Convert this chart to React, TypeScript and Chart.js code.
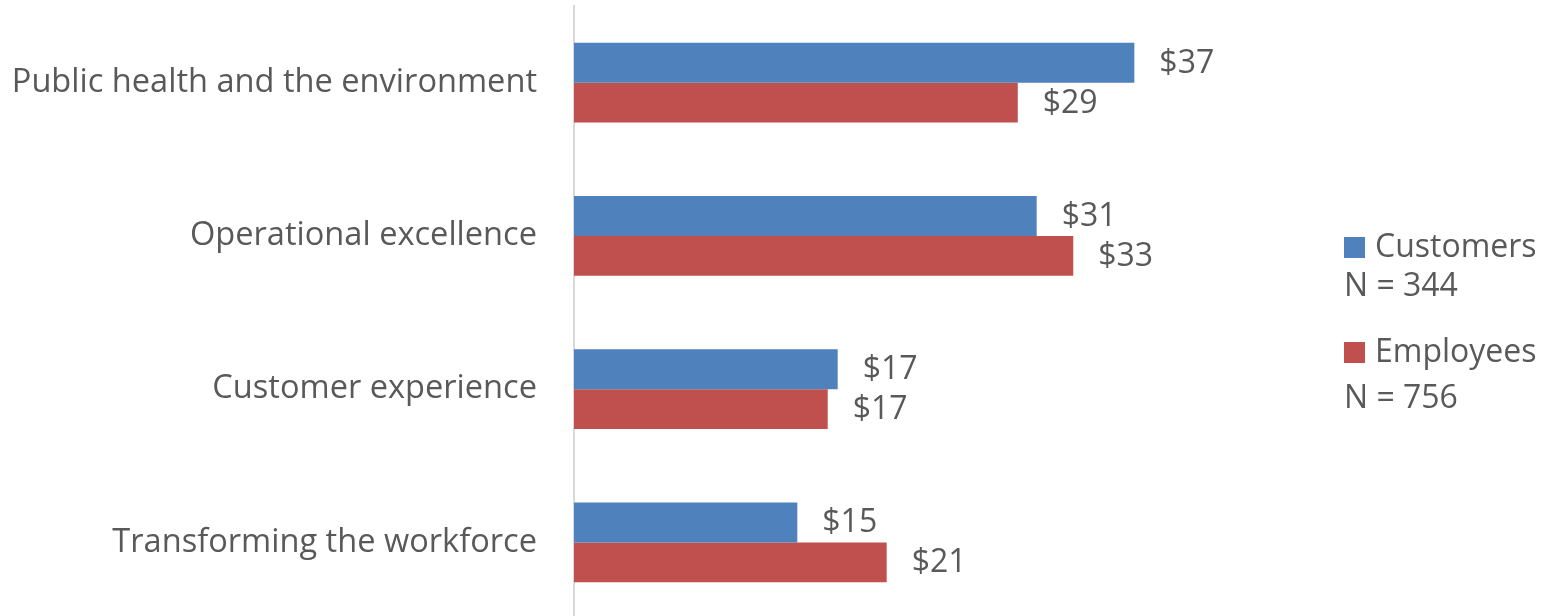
import React, { useEffect, useRef } from "react";
import { Chart, registerables } from "chart.js";

Chart.register(...registerables);

const categories = [
  "Public health and the environment",
  "Operational excellence",
  "Customer experience",
  "Transforming the workforce",
];
const customers = [37.06, 30.6, 17.44, 14.77];
const employees = [29.35, 33.02, 16.78, 20.68];
const seriesNames = ["Customers", "Employees"];
const seriesCounts = ["N = 344", "N = 756"];
const seriesColors = ["#4F81BD", "#C0504D"];
const xMax = 50;

const FONT = "'Open Sans', sans-serif";
const TEXT_COLOR = "#595959";

const dataLabelPlugin = {
  id: "dataLabels",
  afterDatasetsDraw(chart: any) {
    const ctx = chart.ctx;
    ctx.save();
    ctx.font = `32px ${FONT}`;
    ctx.fillStyle = TEXT_COLOR;
    ctx.textAlign = "left";
    ctx.textBaseline = "middle";
    chart.data.datasets.forEach((ds: any, di: number) => {
      const meta = chart.getDatasetMeta(di);
      meta.data.forEach((el: any, i: number) => {
        const v = ds.data[i] as number;
        ctx.fillText("$" + Math.round(v), el.x + 25, el.y + 1);
      });
    });
    ctx.restore();
  },
};

const legendPlugin = {
  id: "customLegend",
  afterDraw(chart: any) {
    const ctx = chart.ctx;
    const boxX = 1344;
    const boxSize = 21;
    const boxTops = [237, 342];
    const nameBaselines = [257, 362];
    const countBaselines = [296, 408];
    ctx.save();
    ctx.font = `32px ${FONT}`;
    ctx.textAlign = "left";
    ctx.textBaseline = "alphabetic";
    seriesNames.forEach((name, i) => {
      ctx.fillStyle = seriesColors[i];
      ctx.fillRect(boxX, boxTops[i], boxSize, boxSize);
      ctx.fillStyle = TEXT_COLOR;
      ctx.fillText(name, boxX + 31, nameBaselines[i]);
      ctx.fillText(seriesCounts[i], boxX, countBaselines[i]);
    });
    ctx.restore();
  },
};

export default function App() {
  const ref = useRef<HTMLCanvasElement | null>(null);

  useEffect(() => {
    if (!ref.current) return;
    const chart = new Chart(ref.current, {
      type: "bar",
      data: {
        labels: categories,
        datasets: [
          {
            label: seriesNames[0],
            data: customers,
            backgroundColor: seriesColors[0],
            categoryPercentage: 0.522,
            barPercentage: 1,
          },
          {
            label: seriesNames[1],
            data: employees,
            backgroundColor: seriesColors[1],
            categoryPercentage: 0.522,
            barPercentage: 1,
          },
        ],
      },
      options: {
        indexAxis: "y",
        responsive: false,
        animation: false,
        layout: { padding: { left: 0, top: 6, right: 224, bottom: 1 } },
        plugins: {
          legend: { display: false },
          tooltip: { enabled: false },
        },
        scales: {
          x: {
            min: 0,
            max: xMax,
            display: false,
          },
          y: {
            grid: { display: false, drawTicks: false },
            border: { display: true, color: "#D9D9D9", width: 2 },
            ticks: {
              color: TEXT_COLOR,
              font: { family: FONT, size: 32.6 },
              padding: 37,
              autoSkip: false,
            },
            afterFit(scale: any) {
              scale.width = 574;
              scale.paddingTop = 0;
              scale.paddingBottom = 0;
            },
          },
        },
      },
      plugins: [dataLabelPlugin, legendPlugin],
    } as any);
    return () => chart.destroy();
  }, []);

  return (
    <div
      style={{
        position: "absolute",
        left: 0,
        top: 0,
        width: 1554,
        height: 616,
        overflow: "hidden",
        background: "#ffffff",
      }}
    >
      <canvas ref={ref} width={1554} height={620} style={{ display: "block" }} />
    </div>
  );
}
